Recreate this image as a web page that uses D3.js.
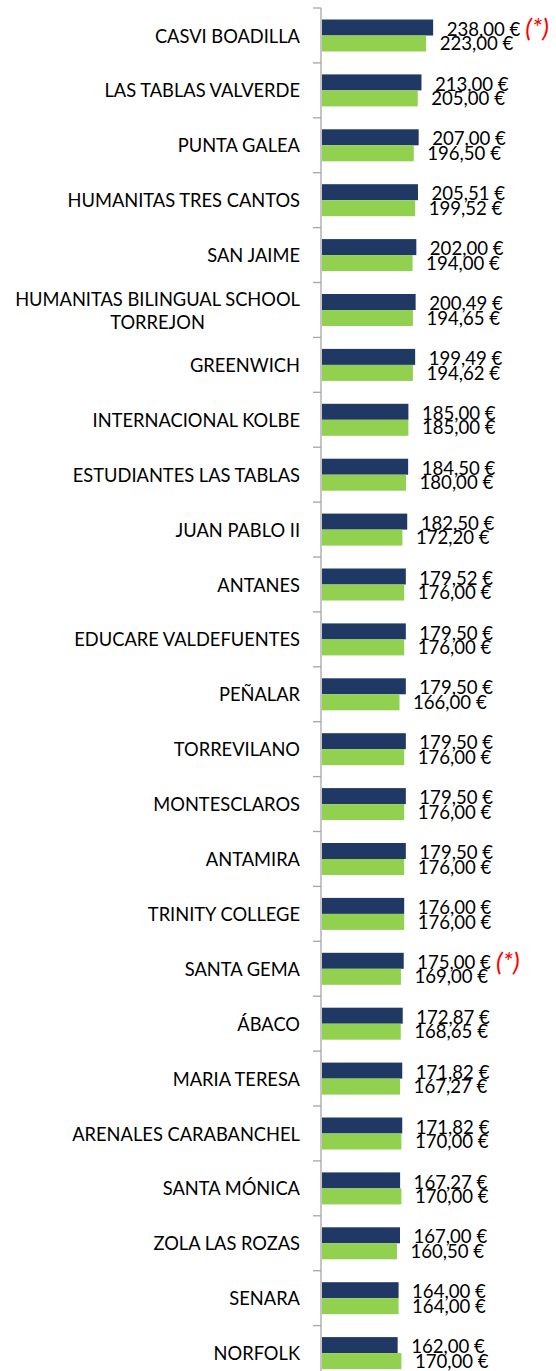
<!DOCTYPE html>
<html>
<head>
<meta charset="utf-8">
<script src="https://cdn.jsdelivr.net/npm/d3@7"></script>
<style>
  html, body { margin: 0; padding: 0; background: #fff; }
  svg { display: block; }
</style>
</head>
<body>
<svg id="chart" width="556" height="1371"></svg>
<script>
const categories = [
  "CASVI BOADILLA", "LAS TABLAS VALVERDE", "PUNTA GALEA", "HUMANITAS TRES CANTOS",
  "SAN JAIME", "HUMANITAS BILINGUAL SCHOOL|TORREJON", "GREENWICH", "INTERNACIONAL KOLBE",
  "ESTUDIANTES LAS TABLAS", "JUAN PABLO II", "ANTANES", "EDUCARE VALDEFUENTES",
  "PEÑALAR", "TORREVILANO", "MONTESCLAROS", "ANTAMIRA", "TRINITY COLLEGE",
  "SANTA GEMA", "ÁBACO", "MARIA TERESA", "ARENALES CARABANCHEL", "SANTA MÓNICA",
  "ZOLA LAS ROZAS", "SENARA", "NORFOLK"
];
const seriesA = [238.00, 213.00, 207.00, 205.51, 202.00, 200.49, 199.49, 185.00, 184.50, 182.50,
  179.52, 179.50, 179.50, 179.50, 179.50, 179.50, 176.00, 175.00, 172.87, 171.82,
  171.82, 167.27, 167.00, 164.00, 162.00];
const seriesB = [223.00, 205.00, 196.50, 199.52, 194.00, 194.65, 194.62, 185.00, 180.00, 172.20,
  176.00, 176.00, 166.00, 176.00, 176.00, 176.00, 176.00, 169.00, 168.65, 167.27,
  170.00, 170.00, 160.50, 164.00, 170.00];
const notes = ["(*)", "", "", "", "", "", "", "", "", "", "", "", "", "", "", "", "",
  "(*)", "", "", "", "", "", "", ""];

const colorA = "#203864";
const colorB = "#92D050";
const axisColor = "#A6A6A6";
const font = "Lato, 'Open Sans', sans-serif";

const svg = d3.select("#chart");
const axisX = 321;
const x = d3.scaleLinear().domain([0, 250]).range([322, 322 + 250 * 0.467]);
const y = d3.scaleBand().domain(categories).range([8, 8 + 25 * 54.9]).padding(0);

const fmt = v => v.toFixed(2).replace(".", ",") + " €";

// axis line
const axisG = svg.append("g").attr("transform", `translate(${axisX},0)`);
axisG.append("line")
  .attr("x1", 0).attr("x2", 0)
  .attr("y1", y.range()[0]).attr("y2", y.range()[1])
  .attr("stroke", axisColor).attr("stroke-width", 1.3);
// boundary ticks
const bounds = categories.map(c => y(c)).concat([y.range()[1]]);
axisG.selectAll("line.tick").data(bounds).join("line")
  .attr("class", "tick")
  .attr("x1", -8).attr("x2", 0)
  .attr("y1", d => d).attr("y2", d => d)
  .attr("stroke", axisColor).attr("stroke-width", 1.3);

const rows = categories.map((c, i) => ({c, a: seriesA[i], b: seriesB[i], note: notes[i]}));
const barOff = 11.5, barH = 16;

const g = svg.append("g");
g.selectAll("rect.a").data(rows).join("rect")
  .attr("class", "a")
  .attr("x", x(0)).attr("y", d => y(d.c) + barOff)
  .attr("width", d => x(d.a) - x(0)).attr("height", barH)
  .attr("fill", colorA);
g.selectAll("rect.b").data(rows).join("rect")
  .attr("class", "b")
  .attr("x", x(0)).attr("y", d => y(d.c) + barOff + barH)
  .attr("width", d => x(d.b) - x(0)).attr("height", barH)
  .attr("fill", colorB);

// value labels
const fs = 18.6;
const labA = g.selectAll("text.la").data(rows).join("text")
  .attr("class", "la")
  .attr("x", d => x(d.a) + 13.5)
  .attr("y", d => y(d.c) + barOff + barH / 2 + 1.5)
  .attr("dy", "0.36em")
  .attr("font-family", font).attr("font-size", fs).attr("fill", "#000")
  .text(d => fmt(d.a));
g.selectAll("text.lb").data(rows).join("text")
  .attr("class", "lb")
  .attr("x", d => x(d.b) + 13.5)
  .attr("y", d => y(d.c) + barOff + barH * 1.5)
  .attr("dy", "0.36em")
  .attr("font-family", font).attr("font-size", fs).attr("fill", "#000")
  .text(d => fmt(d.b));
// notes
labA.each(function(d) {
  if (!d.note) return;
  const w = this.getComputedTextLength();
  g.append("text")
    .attr("x", x(d.a) + 13.5 + w + 5)
    .attr("y", y(d.c) + barOff + barH / 2 + 0.5)
    .attr("dy", "0.36em")
    .attr("font-family", font).attr("font-size", 26).attr("font-style", "italic")
    .attr("fill", "#FF0000")
    .text(d.note);
});

// category labels
const catFs = 18.3;
rows.forEach(d => {
  const lines = d.c.split("|");
  const cy = y(d.c) + y.bandwidth() / 2 + 0.5;
  if (lines.length === 1) {
    g.append("text")
      .attr("x", 300).attr("y", cy).attr("dy", "0.36em")
      .attr("text-anchor", "end")
      .attr("font-family", font).attr("font-size", catFs).attr("fill", "#000")
      .text(lines[0]);
  } else {
    const lh = 23;
    const ts = lines.map((l, k) => g.append("text")
      .attr("y", cy + (k - (lines.length - 1) / 2) * lh).attr("dy", "0.36em")
      .attr("text-anchor", "middle")
      .attr("font-family", font).attr("font-size", catFs).attr("fill", "#000")
      .text(l));
    const maxW = d3.max(ts, t => t.node().getComputedTextLength());
    ts.forEach(t => t.attr("x", 300 - maxW / 2));
  }
});
</script>
</body>
</html>
